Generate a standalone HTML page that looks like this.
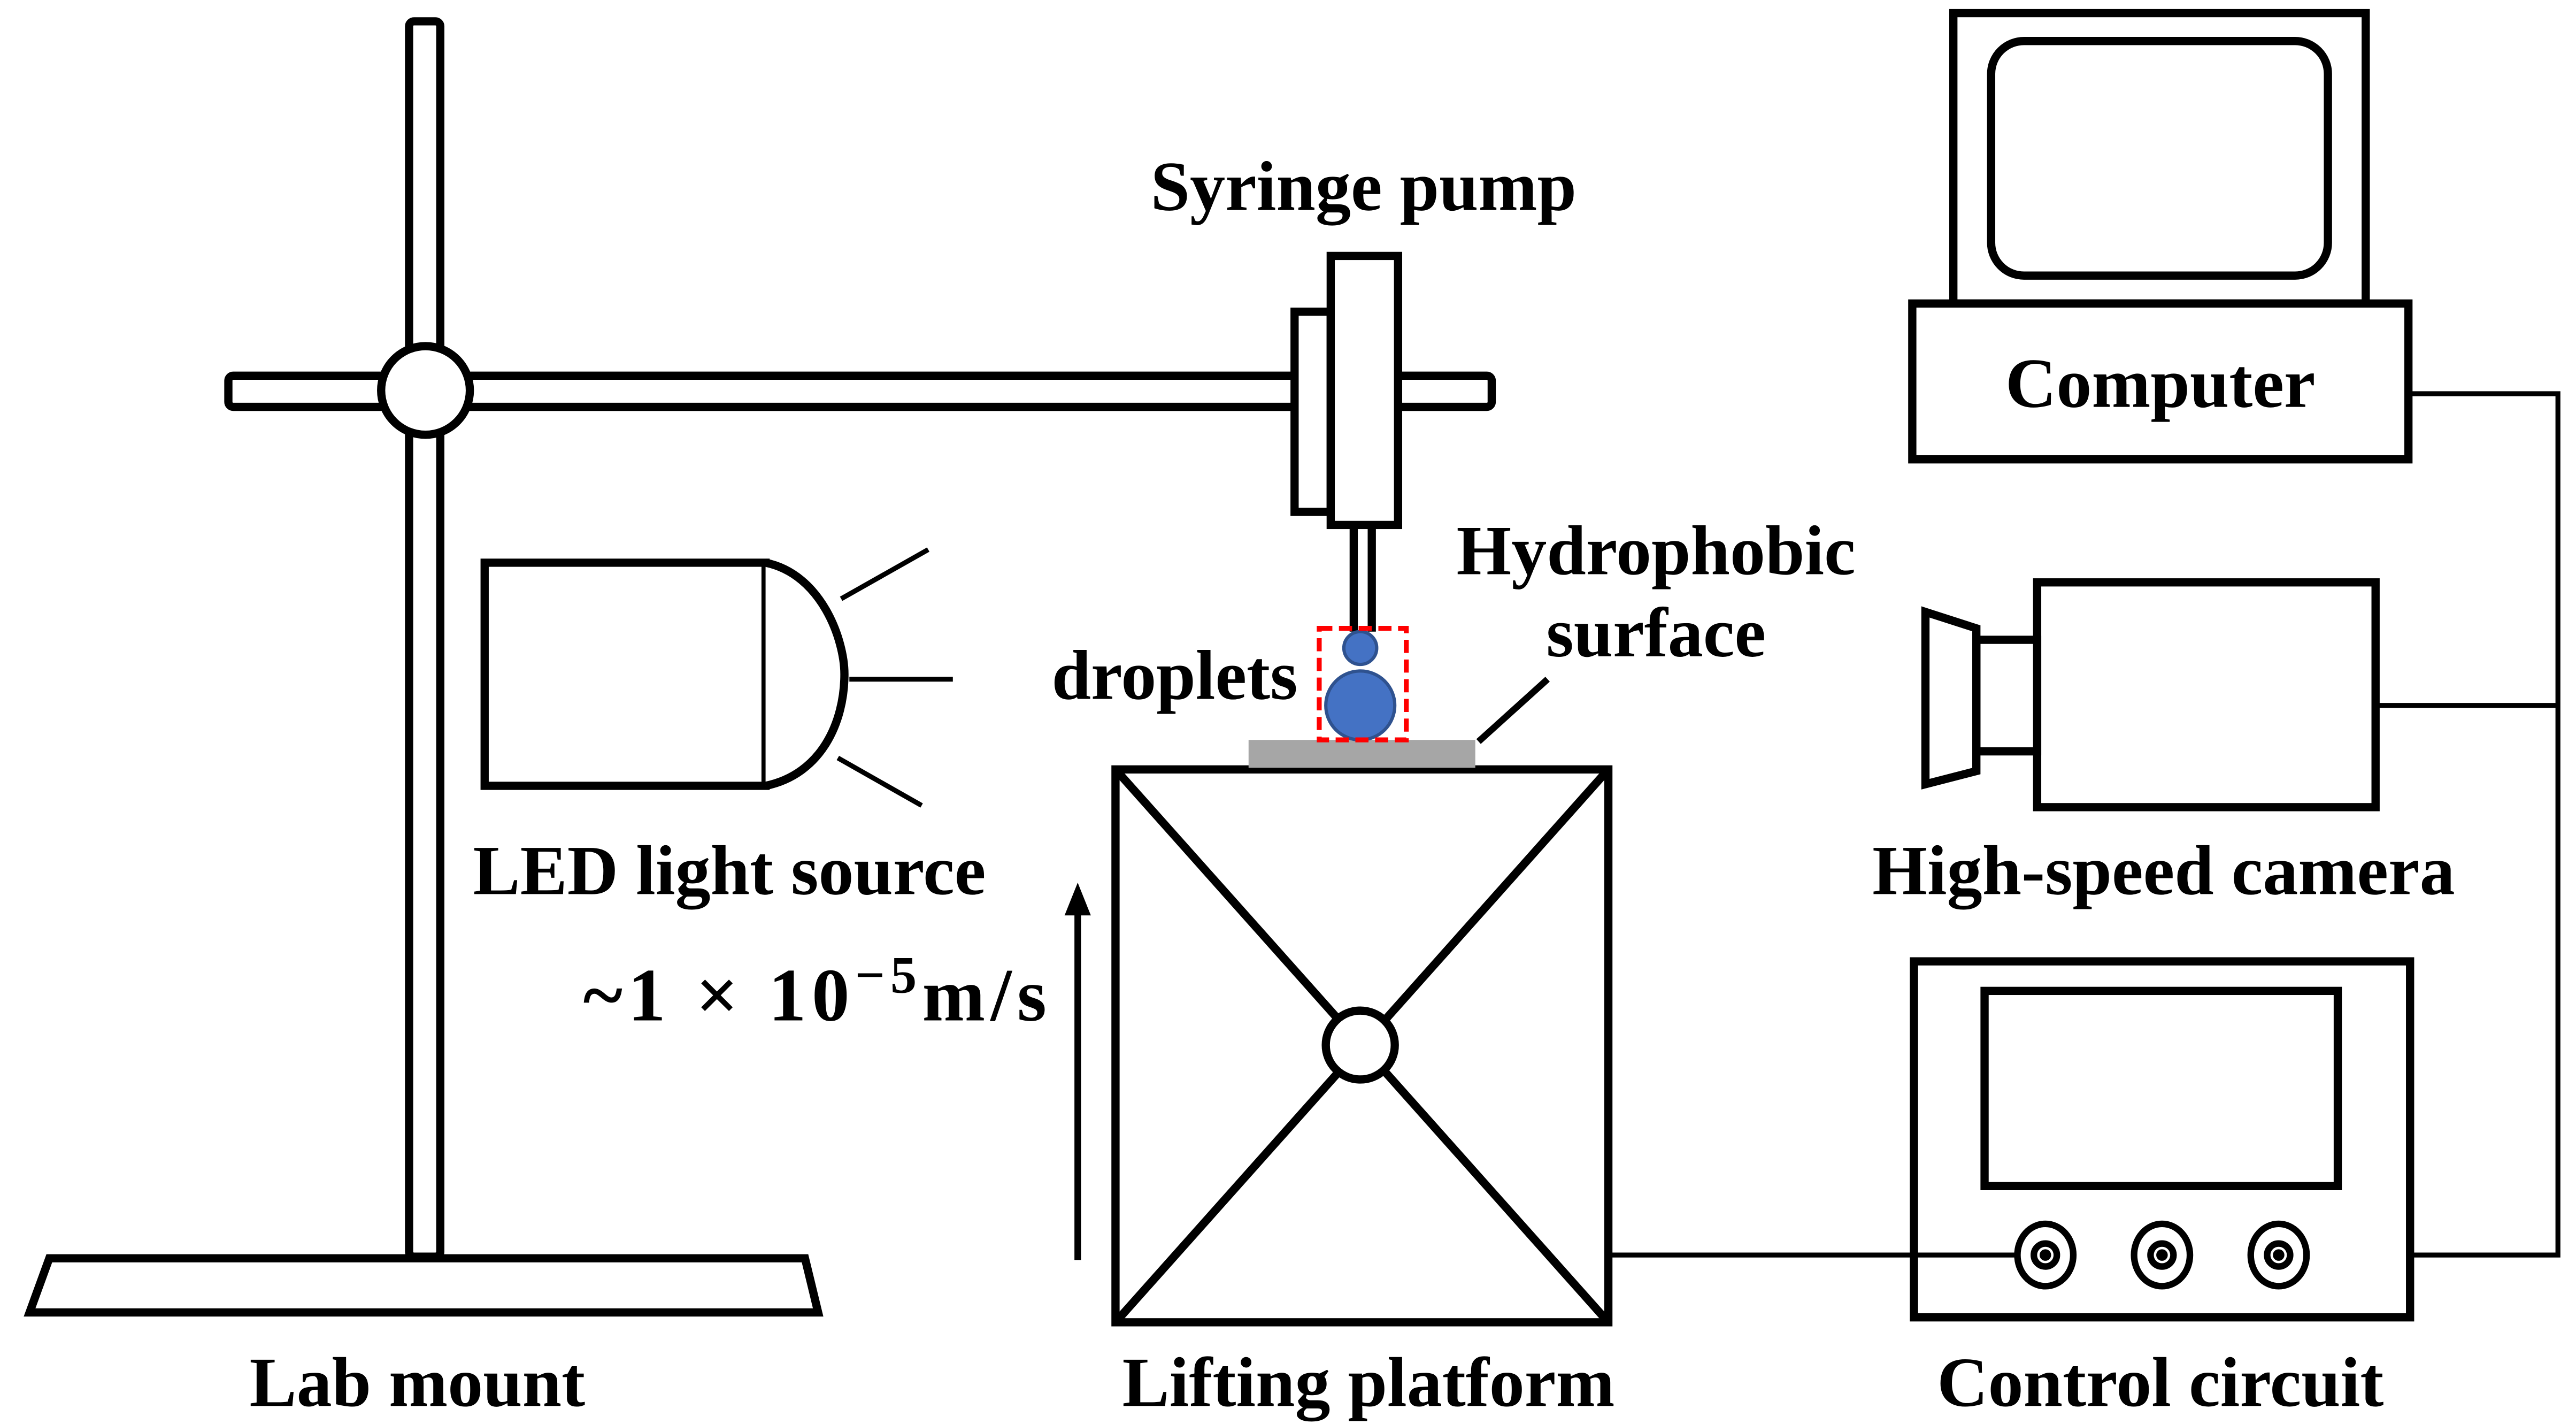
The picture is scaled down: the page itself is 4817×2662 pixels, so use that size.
<!DOCTYPE html>
<html><head><meta charset="utf-8"><style>
html,body{margin:0;padding:0;background:#fff;}
svg{display:block;}
text{font-family:"Liberation Serif",serif;font-weight:bold;fill:#000;}
</style></head><body>
<svg width="4817" height="2662" viewBox="0 0 1568 868" preserveAspectRatio="none" xmlns="http://www.w3.org/2000/svg">
<g fill="#fff" stroke="#000" stroke-width="5">
<rect x="249" y="13" width="19" height="753" rx="3"/>
<rect x="139" y="229" width="769" height="19" rx="3"/>
<circle cx="259" cy="238" r="27"/>
<polygon points="30,767 490,767 498,800 18,800"/>
<rect x="788" y="190" width="22" height="122"/>
<rect x="810" y="156" width="41" height="164"/>
<line x1="824" y1="320" x2="824" y2="385"/>
<line x1="835" y1="320" x2="835" y2="385"/>
<rect x="295" y="343" width="171" height="136"/>
<line x1="466" y1="343" x2="466" y2="479" stroke-width="4"/>
<path d="M466,343 C500,350 514,390 514,411 C514,440 500,472 466,479" />
<line x1="512" y1="365" x2="565" y2="335" stroke-width="3"/>
<line x1="517" y1="414" x2="580" y2="414" stroke-width="3"/>
<line x1="510" y1="462" x2="561" y2="491" stroke-width="3"/>
<rect x="679" y="469" width="300" height="337"/>
<line x1="679" y1="469" x2="979" y2="806"/>
<line x1="979" y1="469" x2="679" y2="806"/>
<circle cx="828" cy="637" r="21"/>
<rect x="1189" y="8" width="251" height="177"/>
<rect x="1212" y="25" width="205" height="143" rx="20"/>
<rect x="1164" y="185" width="302" height="95"/>
<rect x="1240" y="355" width="206" height="137"/>
<rect x="1203" y="390" width="37" height="68"/>
<polygon points="1172,373 1203,383 1203,470 1172,478"/>
<rect x="1165" y="586" width="302" height="217"/>
<rect x="1208" y="604" width="215" height="119"/>
</g>
<g fill="none" stroke="#000" stroke-width="3">
<polyline points="979,765 1228,765"/>
<polyline points="1466,240 1557,240 1557,765 1467,765"/>
<polyline points="1446,430 1557,430"/>
<line x1="900" y1="452" x2="942" y2="414" stroke-width="4"/>
</g>
<g fill="#fff" stroke="#000" stroke-width="4">
<ellipse cx="1245" cy="765" rx="17" ry="19"/><circle cx="1245" cy="765" r="7"/><circle cx="1245" cy="765" r="1.5" fill="#000"/>
<ellipse cx="1316" cy="765" rx="17" ry="19"/><circle cx="1316" cy="765" r="7"/><circle cx="1316" cy="765" r="1.5" fill="#000"/>
<ellipse cx="1387" cy="765" rx="17" ry="19"/><circle cx="1387" cy="765" r="7"/><circle cx="1387" cy="765" r="1.5" fill="#000"/>
</g>
<rect x="760" y="451" width="138" height="17" fill="#a6a6a6"/>
<circle cx="828" cy="395" r="10" fill="#4472C4" stroke="#2F528F" stroke-width="2"/>
<circle cx="828" cy="430" r="21" fill="#4472C4" stroke="#2F528F" stroke-width="2"/>
<rect x="803" y="383" width="53" height="68" fill="none" stroke="#f00" stroke-width="3" stroke-dasharray="8,4"/>
<line x1="656" y1="768" x2="656" y2="556" stroke="#000" stroke-width="4"/>
<polygon points="648,558 664,558 656,538" fill="#000"/>
<g font-size="43" text-anchor="middle">
<text x="830" y="128">Syringe pump</text>
<text x="1315" y="248">Computer</text>
<text x="1008" y="350">Hydrophobic</text>
<text x="1008" y="400">surface</text>
<text x="715" y="426">droplets</text>
<text x="444" y="545">LED light source</text>
<text x="1317" y="545">High-speed camera</text>
<text x="254" y="857">Lab mount</text>
<text x="833" y="857">Lifting platform</text>
<text x="1315" y="857">Control circuit</text>
</g>
<text x="355" y="622" font-size="46" textLength="282" lengthAdjust="spacing">~1 × 10<tspan dy="-17" font-size="32">−5</tspan><tspan dy="17">m/s</tspan></text>
</svg>
</body></html>
